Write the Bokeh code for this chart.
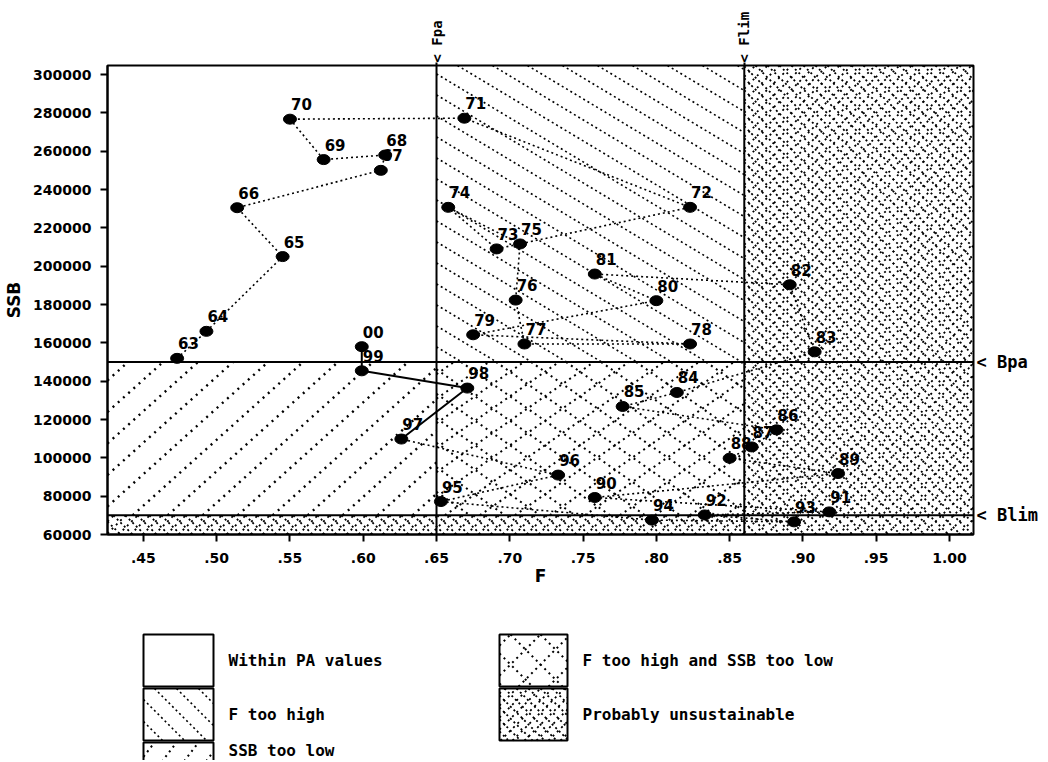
import math
from bokeh.plotting import figure
from bokeh.models import ColumnDataSource, FixedTicker, Range1d, LinearAxis
from bokeh.models import Span
from bokeh.layouts import column
from bokeh.core.properties import value
from bokeh.embed import file_html
from bokeh.resources import INLINE

# ---------------- data ----------------
YEARS = ["63", "64", "65", "66", "67", "68", "69", "70", "71", "72", "73", "74", "75",
         "76", "77", "78", "79", "80", "81", "82", "83", "84", "85", "86", "87", "88",
         "89", "90", "91", "92", "93", "94", "95", "96", "97", "98", "99", "00"]
F_VALUES = [0.473, 0.493, 0.545, 0.514, 0.612, 0.615, 0.573, 0.550, 0.669, 0.823, 0.691,
            0.658, 0.707, 0.704, 0.710, 0.823, 0.675, 0.800, 0.758, 0.891, 0.908, 0.814,
            0.777, 0.882, 0.865, 0.850, 0.924, 0.758, 0.918, 0.833, 0.894, 0.797, 0.653,
            0.733, 0.626, 0.671, 0.599, 0.599]
SSB_VALUES = [151900, 166000, 205000, 230500, 250000, 258000, 255600, 276700, 277200,
              230700, 209000, 230700, 211600, 182300, 159400, 159400, 164200, 182000,
              195900, 190300, 155300, 134100, 126800, 114600, 105700, 99800, 91800,
              79300, 71800, 70200, 66600, 67500, 77200, 91000, 109800, 136400, 145400,
              158000]
N_SOLID = 4  # last years joined by a solid line (97, 98, 99, 00)

FPA, FLIM = 0.65, 0.86
BPA, BLIM = 150000, 70000
F_REF_LABELS = ["< Fpa", "< Flim"]
B_REF_LABELS = ["< Blim", "< Bpa"]

F_TICKS = [0.45, 0.50, 0.55, 0.60, 0.65, 0.70, 0.75, 0.80, 0.85, 0.90, 0.95, 1.00]
F_TICK_LABELS = [".45", ".50", ".55", ".60", ".65", ".70", ".75", ".80", ".85", ".90",
                 ".95", "1.00"]
SSB_TICKS = [60000, 80000, 100000, 120000, 140000, 160000, 180000, 200000, 220000,
             240000, 260000, 280000, 300000]
SSB_TICK_LABELS = [str(t) for t in SSB_TICKS]

LEGEND_LABELS = ["Within PA values", "F too high", "SSB too low",
                 "F too high and SSB too low", "Probably unsustainable"]

X_START, X_END = 0.4255, 1.0164
Y_START, Y_END = 60000, 304700

FONT = "DejaVu Sans"
MONO = "DejaVu Sans Mono"

# ---------------- layout ----------------
W = 1044
H1 = 598
FW, FH = 866, 469
ML, MT = 107, 65
MR = W - ML - FW
kx = FW / (X_END - X_START)
ky = FH / (Y_END - Y_START)


def to_px(f, s):
    return (f - X_START) * kx, (Y_END - s) * ky


def to_data(sx, sy):
    return X_START + sx / kx, Y_END - sy / ky


def hatch(X0, X1, Y0, Y1, slope, hsp, phase=0.0):
    """lines y = slope*x + c in screen pixels (y down), clipped to the box"""
    vsp = hsp * abs(slope)
    corners = [Y0 - slope * X0, Y0 - slope * X1, Y1 - slope * X0, Y1 - slope * X1]
    cmin, cmax = min(corners), max(corners)
    xs, ys = [], []
    for k in range(math.ceil((cmin - phase) / vsp), math.floor((cmax - phase) / vsp) + 1):
        c = phase + k * vsp
        xa, xb = (Y0 - c) / slope, (Y1 - c) / slope
        lo, hi = max(X0, min(xa, xb)), min(X1, max(xa, xb))
        if hi - lo > 0.5:
            xs.append([lo, hi])
            ys.append([slope * lo + c, slope * hi + c])
    return xs, ys


def hatch_data(f0, f1, s0, s1, slope, hsp, phase=0.0):
    X0, Y1 = to_px(f0, s0)
    X1, Y0 = to_px(f1, s1)
    xs, ys = hatch(X0, X1, Y0, Y1, slope, hsp, phase)
    dxs, dys = [], []
    for lx, ly in zip(xs, ys):
        pts = [to_data(a, b) for a, b in zip(lx, ly)]
        dxs.append([q[0] for q in pts])
        dys.append([q[1] for q in pts])
    return dxs, dys


p = figure(width=W, height=H1, x_range=Range1d(X_START, X_END),
           y_range=Range1d(Y_START, Y_END), toolbar_location=None,
           output_backend="svg", min_border_left=ML, min_border_top=MT,
           min_border_right=MR, min_border_bottom=H1 - MT - FH)
p.background_fill_color = "white"
p.border_fill_color = "white"
p.xgrid.visible = False
p.ygrid.visible = False
p.outline_line_color = "black"
p.outline_line_width = 2

STYLE = {
    "fhigh": [dict(slope=0.6, hsp=35, line_width=1.6, line_dash="2 3")],
    "slow": [dict(slope=-0.9, hsp=35, line_width=2.4, line_dash="2 5")],
    "both": [dict(slope=0.7, hsp=35, line_width=2, line_dash="2 4"),
             dict(slope=-0.7, hsp=35, line_width=2, line_dash="2 4")],
    "unsus": [dict(slope=1.0, hsp=12, line_width=1.8, line_dash="2 3"),
              dict(slope=-1.0, hsp=12, line_width=1.8, line_dash="2 4")],
}


def draw_region(fig, f0, f1, s0, s1, key):
    for st in STYLE[key]:
        xs, ys = hatch_data(f0, f1, s0, s1, st["slope"], st["hsp"])
        fig.multi_line(xs, ys, line_color="black", line_width=st["line_width"],
                       line_dash=st["line_dash"])


draw_region(p, FPA, FLIM, BPA, Y_END, "fhigh")
draw_region(p, X_START, FPA, BLIM, BPA, "slow")
draw_region(p, FPA, FLIM, BLIM, BPA, "both")
draw_region(p, FLIM, X_END, Y_START, Y_END, "unsus")
draw_region(p, X_START, FLIM, Y_START, BLIM, "unsus")

for loc, dim in [(FPA, "height"), (FLIM, "height"), (BPA, "width"), (BLIM, "width")]:
    p.add_layout(Span(location=loc, dimension=dim, line_color="black", line_width=2))

# trajectory
n_dot = len(YEARS) - N_SOLID + 1
p.line(F_VALUES[:n_dot], SSB_VALUES[:n_dot], line_color="black", line_width=1.6,
       line_dash="2 3")
p.line(F_VALUES[n_dot - 1:], SSB_VALUES[n_dot - 1:], line_color="black", line_width=2)

src = ColumnDataSource(dict(F=F_VALUES, SSB=SSB_VALUES, yr=YEARS))
p.text(x="F", y="SSB", text="yr", source=src, text_font=value(FONT),
       text_font_style="bold", text_font_size="15px", x_offset=1, y_offset=-15,
       text_baseline="alphabetic", text_color="black")
p.ellipse(x="F", y="SSB", width=13, height=10, width_units="screen",
          height_units="screen", source=src, fill_color="black", line_color="black")

# axes
for ax in (p.xaxis[0], p.yaxis[0]):
    ax.axis_line_width = 2
    ax.major_tick_line_width = 2
    ax.major_tick_out = 7
    ax.major_tick_in = 0
    ax.minor_tick_line_color = None
    ax.major_label_text_font = FONT
    ax.major_label_text_font_style = "bold"
    ax.major_label_text_font_size = "14px"
    ax.major_label_text_color = "black"
    ax.axis_label_text_font = FONT
    ax.axis_label_text_font_style = "bold"
    ax.axis_label_text_font_size = "17px"
    ax.axis_label_text_color = "black"
p.xaxis.ticker = FixedTicker(ticks=F_TICKS)
p.xaxis.major_label_overrides = {t: l for t, l in zip(F_TICKS, F_TICK_LABELS)}
p.yaxis.ticker = FixedTicker(ticks=SSB_TICKS)
p.yaxis.major_label_overrides = {t: l for t, l in zip(SSB_TICKS, SSB_TICK_LABELS)}
p.xaxis.axis_label = "F"
p.yaxis.axis_label = "SSB"
p.xaxis.major_label_standoff = 11
p.yaxis.major_label_standoff = 9
p.xaxis.axis_label_standoff = 0
p.yaxis.axis_label_standoff = 6

# reference point names as extra axes
top = LinearAxis(ticker=FixedTicker(ticks=[FPA, FLIM]),
                 major_label_overrides={FPA: F_REF_LABELS[0], FLIM: F_REF_LABELS[1]},
                 major_label_orientation="vertical")
right = LinearAxis(ticker=FixedTicker(ticks=[BLIM, BPA]),
                   major_label_overrides={BLIM: B_REF_LABELS[0], BPA: B_REF_LABELS[1]})
for ax in (top, right):
    ax.axis_line_color = None
    ax.minor_tick_line_color = None
    ax.major_label_text_font = MONO
    ax.major_label_text_font_style = "bold"
    ax.major_label_text_color = "black"
top.major_label_text_font_size = "14px"
right.major_label_text_font_size = "17px"
top.major_tick_line_width = 2
top.major_tick_out = 3
top.major_tick_in = 0
top.major_label_standoff = 0
right.major_tick_line_color = None
right.major_tick_out = 0
right.major_tick_in = 0
right.major_label_standoff = 3
p.add_layout(top, "above")
p.add_layout(right, "right")

# ---------------- legend ----------------
H2 = 162
q = figure(width=W, height=H2, x_range=Range1d(ML, ML + FW), y_range=Range1d(H2, 0),
           toolbar_location=None, output_backend="svg", x_axis_location=None,
           y_axis_location=None, min_border_left=ML, min_border_right=MR,
           min_border_top=0, min_border_bottom=0)
q.xgrid.visible = False
q.ygrid.visible = False
q.outline_line_color = None
q.background_fill_color = "white"
q.border_fill_color = "white"

LSTYLE = {
    "fhigh": [dict(slope=1.0, hsp=22, line_width=1.6, line_dash="2 3")],
    "slow": [dict(slope=-1.3, hsp=22, line_width=2, line_dash="2 4")],
    "both": [dict(slope=1.0, hsp=30, line_width=2, line_dash="2 4"),
             dict(slope=-1.0, hsp=30, line_width=2, line_dash="2 4")],
    "unsus": [dict(slope=1.0, hsp=12, line_width=1.8, line_dash="2 3"),
              dict(slope=-1.0, hsp=12, line_width=1.8, line_dash="2 4")],
}
boxes = [(143, 213, 36, "none", 0, 26), (143, 213, 90, "fhigh", 1, 26),
         (143, 213, 144, "slow", 2, 8),
         (499, 567, 36, "both", 3, 26), (499, 567, 90, "unsus", 4, 26)]
BH = 52
for x0, x1, y0, key, li, toff in boxes:
    y1 = y0 + BH
    if key != "none":
        for st in LSTYLE[key]:
            xs, ys = hatch(x0, x1, y0, y1, st["slope"], st["hsp"], phase=y0)
            q.multi_line(xs, ys, line_color="black", line_width=st["line_width"],
                         line_dash=st["line_dash"])
    q.quad(left=[x0], right=[x1], top=[y0], bottom=[y1], fill_color=None,
           line_color="black", line_width=2)
    q.text(x=[x1 + 15], y=[y0 + toff], text=[LEGEND_LABELS[li]], text_font=value(MONO),
           text_font_style="bold", text_font_size="16px", text_baseline="middle",
           text_color="black")

layout = column(p, q, spacing=0)
open("out.html", "w").write(file_html(layout, INLINE))
